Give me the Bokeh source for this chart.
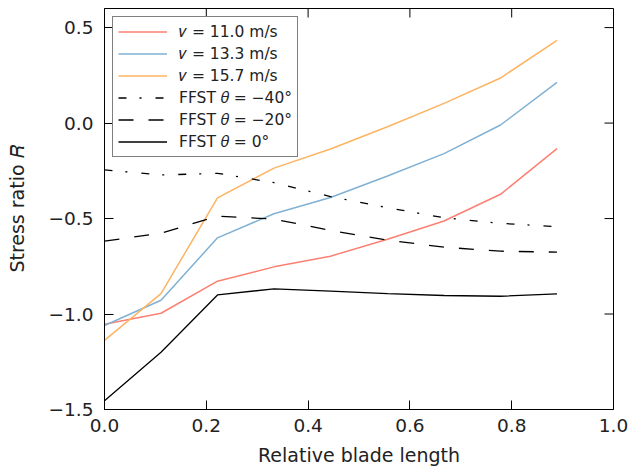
import math
from bokeh.plotting import figure
from bokeh.models import (Range1d, FixedTicker, CustomJSTickFormatter, Legend, LegendItem)
from bokeh.embed import file_html
from bokeh.resources import INLINE

# ---- data ----
x_pos = [0.0, 0.111, 0.222, 0.333, 0.444, 0.556, 0.667, 0.778, 0.889]
r_v110 = [-1.054, -0.996, -0.828, -0.753, -0.697, -0.608, -0.513, -0.373, -0.134]
r_v133 = [-1.060, -0.928, -0.601, -0.475, -0.390, -0.277, -0.160, -0.010, 0.213]
r_v157 = [-1.138, -0.893, -0.392, -0.236, -0.136, -0.019, 0.103, 0.236, 0.433]
r_ffst_m40 = [-0.245, -0.272, -0.263, -0.312, -0.385, -0.443, -0.496, -0.525, -0.543]
r_ffst_m20 = [-0.618, -0.577, -0.487, -0.503, -0.562, -0.613, -0.650, -0.671, -0.676]
r_ffst_0 = [-1.454, -1.200, -0.900, -0.868, -0.880, -0.893, -0.903, -0.907, -0.895]

labels = ["\U0001D463 = 11.0 m/s", "\U0001D463 = 13.3 m/s", "\U0001D463 = 15.7 m/s",
          "FFST \U0001D703 = \u221240\u00b0", "FFST \U0001D703 = \u221220\u00b0",
          "FFST \U0001D703 = 0\u00b0"]
x_ticks = [0.0, 0.2, 0.4, 0.6, 0.8, 1.0]
y_ticks = [-1.5, -1.0, -0.5, 0.0, 0.5]
x_lim = (0.0, 1.0)
y_lim = (-1.5, 0.6)

FONT = "DejaVu Sans"
TICK_LEN = 9

p = figure(width=629, height=471, output_backend="svg", toolbar_location=None,
           x_range=Range1d(*x_lim), y_range=Range1d(*y_lim),
           min_border_left=104, min_border_right=16, min_border_top=8, min_border_bottom=62,
           x_axis_label="Relative blade length", y_axis_label="Stress ratio \U0001D445")
p.grid.visible = False
p.outline_line_color = "black"
p.outline_line_width = 1
p.background_fill_color = "white"
p.border_fill_color = "white"

fmt = CustomJSTickFormatter(code="return tick.toFixed(1).replace('-', '\\u2212');")

for ax, ticks in ((p.xaxis[0], x_ticks), (p.yaxis[0], y_ticks)):
    ax.ticker = FixedTicker(ticks=ticks)
    ax.major_tick_in = TICK_LEN
    ax.major_tick_out = 0
    ax.minor_tick_in = 0
    ax.minor_tick_out = 0
    ax.axis_line_color = "black"
    ax.major_tick_line_color = "black"
    ax.major_label_text_font = FONT
    ax.major_label_text_font_size = "18.5px"
    ax.major_label_text_color = "#222222"
    ax.axis_label_text_font = FONT
    ax.axis_label_text_font_size = "19px"
    ax.axis_label_text_font_style = "normal"
    ax.axis_label_text_color = "#222222"
    ax.formatter = fmt

p.xaxis[0].major_label_standoff = 9
p.yaxis[0].major_label_standoff = 11
p.xaxis[0].axis_label_standoff = 9
p.yaxis[0].axis_label_standoff = 18

# inward ticks on the top and right edges (matplotlib classic style)
p.ray(x=x_ticks, y=[y_lim[1]] * len(x_ticks), length=TICK_LEN, length_units="screen",
      angle=-math.pi / 2, line_color="black", line_width=1)
p.ray(x=[x_lim[1]] * len(y_ticks), y=y_ticks, length=TICK_LEN, length_units="screen",
      angle=math.pi, line_color="black", line_width=1)

series = [
    (r_v110, "#fb8072", "solid", 1.5),
    (r_v133, "#80b1d3", "solid", 1.5),
    (r_v157, "#fdb462", "solid", 1.5),
    (r_ffst_m40, "black", "8 13 2 14", 1.3),
    (r_ffst_m20, "black", "15 15", 1.3),
    (r_ffst_0, "black", "solid", 1.3),
]
items = []
for (ys, col, dash, lw), lab in zip(series, labels):
    r = p.line(x_pos, ys, line_color=col, line_dash=dash, line_width=lw)
    items.append(LegendItem(label=lab, renderers=[r]))

leg = Legend(items=items, location="top_left")
leg.margin = 8
leg.padding = 5
leg.spacing = 3
leg.label_height = 19
leg.glyph_height = 19
leg.glyph_width = 49
leg.label_standoff = 12
leg.label_text_font = FONT
leg.label_text_font_size = "15.5px"
leg.label_text_color = "#222222"
leg.border_line_color = "black"
leg.border_line_width = 1
leg.background_fill_alpha = 1.0
p.add_layout(leg)

open("out.html", "w").write(file_html(p, INLINE))
